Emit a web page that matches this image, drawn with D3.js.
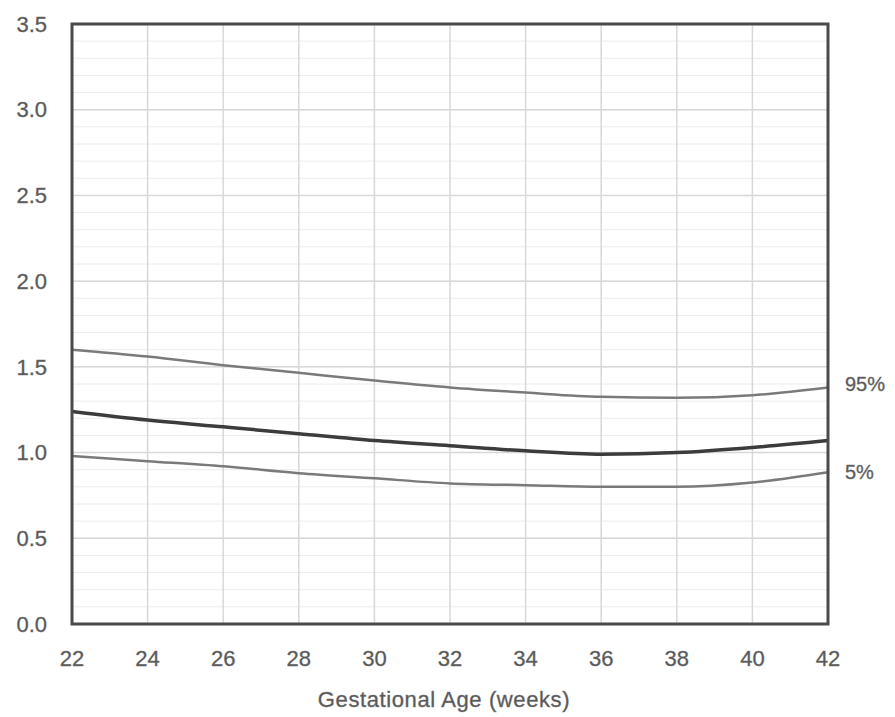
<!DOCTYPE html>
<html>
<head>
<meta charset="utf-8">
<script src="https://cdn.jsdelivr.net/npm/d3@7"></script>
<style>
  body { margin: 0; background: #fff; }
  text { font-family: "Liberation Sans", Arial, sans-serif; fill: #555; stroke: #777; stroke-width: 0.4px; }
</style>
</head>
<body>
<svg class="chart"></svg>
<script>
// chart data
var weeks = [22, 24, 26, 28, 30, 32, 34, 36, 38, 40, 42];
var p95 = [1.60, 1.56, 1.51, 1.465, 1.42, 1.38, 1.35, 1.325, 1.32, 1.335, 1.38];
var p50 = [1.24, 1.19, 1.15, 1.11, 1.07, 1.04, 1.01, 0.99, 1.00, 1.03, 1.07];
var p5 = [0.98, 0.95, 0.92, 0.88, 0.85, 0.82, 0.81, 0.80, 0.80, 0.825, 0.885];
var yTicks = [0, 0.5, 1.0, 1.5, 2.0, 2.5, 3.0, 3.5];
var xTicks = [22, 24, 26, 28, 30, 32, 34, 36, 38, 40, 42];

var width = 895, height = 717;
var margin = {top: 24, right: 67, bottom: 93, left: 72};

var svg = d3.select(".chart")
    .attr("width", width)
    .attr("height", height);

var x = d3.scaleLinear().domain([22, 42]).range([margin.left, width - margin.right]);
var y = d3.scaleLinear().domain([0, 3.5]).range([height - margin.bottom, margin.top]);

// minor grid every 0.1
var minor = d3.range(0, 35).map(function (i) { return i / 10; });
svg.append("g").selectAll("line")
    .data(minor)
    .enter().append("line")
    .attr("x1", x(22)).attr("x2", x(42))
    .attr("y1", function (d) { return y(d); })
    .attr("y2", function (d) { return y(d); })
    .attr("stroke", "#ececec")
    .attr("stroke-width", 1);

// major grid
svg.append("g").selectAll("line")
    .data(yTicks)
    .enter().append("line")
    .attr("x1", x(22)).attr("x2", x(42))
    .attr("y1", function (d) { return y(d); })
    .attr("y2", function (d) { return y(d); })
    .attr("stroke", "#d8d8d8")
    .attr("stroke-width", 1.5);

svg.append("g").selectAll("line")
    .data(xTicks)
    .enter().append("line")
    .attr("x1", function (d) { return x(d); })
    .attr("x2", function (d) { return x(d); })
    .attr("y1", y(0)).attr("y2", y(3.5))
    .attr("stroke", "#d8d8d8")
    .attr("stroke-width", 1.5);

// curves
var line = d3.line()
    .x(function (d, i) { return x(weeks[i]); })
    .y(function (d) { return y(d); })
    .curve(d3.curveMonotoneX);

svg.append("path").attr("d", line(p95))
    .attr("fill", "none").attr("stroke", "#7a7a7a").attr("stroke-width", 2.5);
svg.append("path").attr("d", line(p5))
    .attr("fill", "none").attr("stroke", "#7a7a7a").attr("stroke-width", 2.5);
svg.append("path").attr("d", line(p50))
    .attr("fill", "none").attr("stroke", "#3c3c3c").attr("stroke-width", 3.5);

// frame
svg.append("rect")
    .attr("x", x(22)).attr("y", y(3.5))
    .attr("width", x(42) - x(22))
    .attr("height", y(0) - y(3.5))
    .attr("fill", "none")
    .attr("stroke", "#4a4a4a")
    .attr("stroke-width", 3);

// tick labels
svg.append("g").selectAll("text")
    .data(yTicks)
    .enter().append("text")
    .attr("x", 47)
    .attr("y", function (d) { return y(d); })
    .attr("dy", "0.35em")
    .attr("text-anchor", "end")
    .style("font-size", "22px")
    .text(function (d) { return d3.format(".1f")(d); });

svg.append("g").selectAll("text")
    .data(xTicks)
    .enter().append("text")
    .attr("x", function (d) { return x(d); })
    .attr("y", y(0) + 34)
    .attr("dy", "0.35em")
    .attr("text-anchor", "middle")
    .style("font-size", "22px")
    .text(function (d) { return d; });

svg.append("text")
    .attr("x", (x(22) + x(42)) / 2 - 6)
    .attr("y", 699)
    .attr("dy", "0.35em")
    .attr("text-anchor", "middle")
    .style("font-size", "22px")
    .style("letter-spacing", "0.6px")
    .text("Gestational Age (weeks)");

// percentile labels
svg.append("text")
    .attr("x", 845).attr("y", y(p95[p95.length - 1]) - 3)
    .attr("dy", "0.35em")
    .style("font-size", "20px")
    .text("95%");
svg.append("text")
    .attr("x", 845).attr("y", y(p5[p5.length - 1]))
    .attr("dy", "0.35em")
    .style("font-size", "20px")
    .text("5%");
</script>
</body>
</html>
